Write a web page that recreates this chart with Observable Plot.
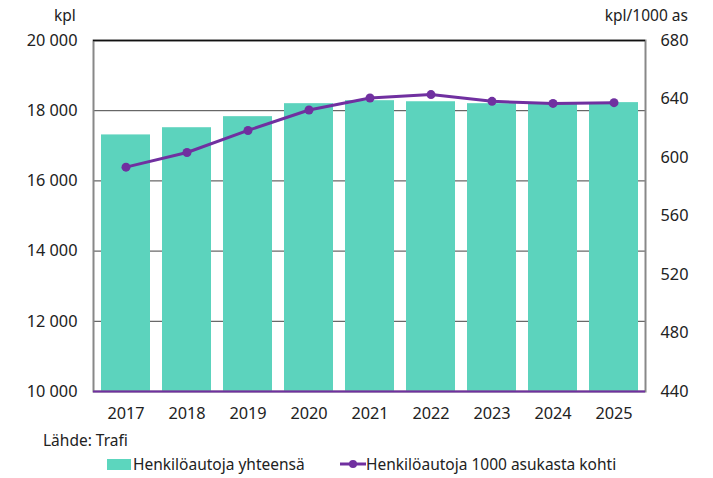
<!DOCTYPE html>
<html><head><meta charset="utf-8">
<script src="https://cdn.jsdelivr.net/npm/d3@7"></script>
<script src="https://cdn.jsdelivr.net/npm/@observablehq/plot@0.6"></script>
<style>
body{margin:0;font-family:"Noto Sans","Open Sans",sans-serif;background:#fff;}
#wrap{position:relative;width:713px;height:478px;}
.t{position:absolute;font-size:15.5px;color:#222;white-space:nowrap;}
#chart svg text{font-size:16.3px;fill:#222;}
</style></head><body>
<div id="wrap">
<div id="chart"></div>
<div class="t" style="left:54px;top:4px;">kpl</div>
<div class="t" style="right:25px;top:4px;">kpl/1000 as</div>
<div class="t" style="left:43px;top:429px;">Lähde: Trafi</div>
<div class="t" style="left:107px;top:453px;display:flex;align-items:center;">
  <span style="display:inline-block;width:24px;height:11px;background:#5cd6be;margin-right:2px;"></span>Henkilöautoja yhteensä
</div>
<div class="t" style="left:340px;top:453px;display:flex;align-items:center;">
  <svg width="26" height="12"><line x1="0" y1="6" x2="26" y2="6" stroke="#7030a0" stroke-width="3"/><circle cx="13" cy="6" r="4" fill="#7030a0"/></svg>Henkilöautoja 1000 asukasta kohti
</div>
</div>
<script>
const years = ["2017","2018","2019","2020","2021","2022","2023","2024","2025"];
const carsTotal = [17310, 17515, 17830, 18200, 18285, 18255, 18200, 18190, 18230];
const carsPer1000 = [593.4, 603.4, 618.5, 632.5, 640.7, 643.0, 638.4, 637.0, 637.5];
const leftTicks = [10000, 12000, 14000, 16000, 18000, 20000];
const rightTicks = [440, 480, 520, 560, 600, 640, 680];

const L0 = 10000, L1 = 20000, R0 = 440, R1 = 680;
const toLeft = v => L0 + (v - R0) / (R1 - R0) * (L1 - L0);
const toRight = v => R0 + (v - L0) / (L1 - L0) * (R1 - R0);
const fmt = d3.formatLocale({decimal: ",", thousands: "\u00a0", grouping: [3], currency: ["", "€"]}).format(",d");

const bars = years.map((y, i) => ({year: y, value: carsTotal[i]}));
const line = years.map((y, i) => ({year: y, value: toLeft(carsPer1000[i])}));

const chart = Plot.plot({
  width: 713, height: 478,
  marginLeft: 93, marginRight: 68, marginTop: 40, marginBottom: 87,
  style: {fontFamily: "'Noto Sans','Open Sans',sans-serif", fontSize: "16px", color: "#222"},
  x: {domain: years, paddingInner: 0.2, paddingOuter: 0.1, label: null},
  y: {domain: [L0, L1], label: null},
  marks: [
    Plot.ruleY(leftTicks.slice(1, -1), {stroke: "#444", strokeWidth: 1}),
    Plot.barY(bars, {x: "year", y1: L0, y2: "value", fill: "#5cd3bd"}),
    Plot.frame({stroke: "#888", strokeWidth: 2}),
    Plot.ruleY([L1], {stroke: "#111", strokeWidth: 1.5}),
    Plot.axisY({ticks: leftTicks, tickFormat: fmt, tickSize: 0, tickPadding: 16, anchor: "left", label: null}),
    Plot.axisY({ticks: rightTicks.map(toLeft), tickFormat: v => String(Math.round(toRight(v))), tickSize: 0, tickPadding: 15, anchor: "right", label: null}),
    Plot.axisX({tickSize: 0, tickPadding: 16, label: null}),
    Plot.lineY(line, {x: "year", y: "value", stroke: "#7030a0", strokeWidth: 3}),
    Plot.dot(line, {x: "year", y: "value", r: 4.5, fill: "#7030a0"}),
    Plot.ruleY([L0], {stroke: "#7030a0", strokeWidth: 2})
  ]
});
document.getElementById("chart").appendChild(chart);
</script>
</body></html>
